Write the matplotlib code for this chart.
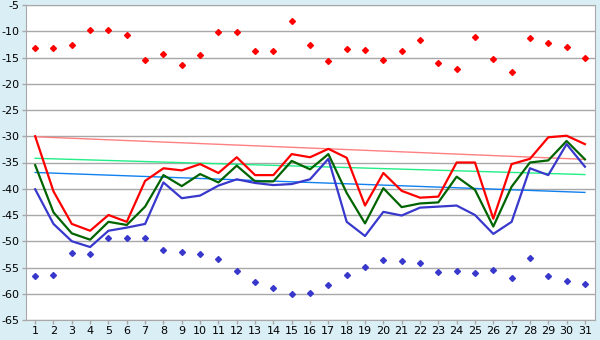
import matplotlib
matplotlib.use('Agg')
import matplotlib.pyplot as plt
import numpy as np

plt.rcParams['axes.unicode_minus'] = False
plt.rcParams['font.family'] = 'DejaVu Sans'

days = list(range(1, 32))

# daily maximum / mean / minimum
t_max = [-30.0, -40.5, -46.7, -48.0, -45.0, -46.3, -38.5, -36.1, -36.5, -35.3,
         -37.0, -34.0, -37.4, -37.4, -33.4, -34.0, -32.4, -34.1, -43.2, -37.0,
         -40.4, -41.7, -41.5, -35.0, -35.0, -45.7, -35.3, -34.3, -30.2, -29.9, -31.5]
t_mean = [-35.5, -44.5, -48.5, -49.7, -46.3, -46.9, -43.4, -37.4, -39.5, -37.2,
          -38.8, -35.6, -38.6, -38.6, -34.7, -36.3, -33.4, -40.8, -46.6, -39.9,
          -43.5, -42.8, -42.6, -37.7, -40.2, -47.2, -39.6, -35.0, -34.6, -30.9, -34.4]
t_min = [-40.1, -46.7, -50.0, -51.1, -48.0, -47.4, -46.7, -38.8, -41.8, -41.3,
         -39.4, -38.2, -38.9, -39.3, -39.1, -38.2, -34.3, -46.3, -49.0, -44.4,
         -45.1, -43.6, -43.4, -43.2, -45.0, -48.6, -46.3, -36.1, -37.4, -31.5, -35.8]

# records
rec_high = [-13.2, -13.2, -12.6, -9.8, -9.8, -10.8, -15.5, -14.3, -16.5, -14.6,
            -10.2, -10.2, -13.8, -13.8, -8.1, -12.7, -15.7, -13.4, -13.6, -15.5,
            -13.8, -11.7, -16.1, -17.2, -11.1, -15.3, -17.8, -11.3, -12.3, -13.0, -15.1]
rec_low = [-56.7, -56.5, -52.3, -52.5, -49.4, -49.4, -49.4, -51.7, -52.1, -52.5,
           -53.4, -55.7, -57.8, -58.9, -60.1, -59.9, -58.4, -56.5, -54.9, -53.6,
           -53.8, -54.2, -55.9, -55.7, -56.1, -55.5, -57.0, -53.2, -56.7, -57.6, -58.2]

# normals (start / end of month)
norm_days = [1, 31]
norm_max = [-30.1, -34.4]
norm_mean = [-34.2, -37.3]
norm_min = [-36.9, -40.7]

fig = plt.figure(figsize=(6, 3.4), dpi=100, facecolor='#DAEEF5')
ax = fig.add_axes([26 / 600, 1 - 320 / 340, 569 / 600, 315 / 340])
ax.set_facecolor('white')

ax.plot(norm_days, norm_max, color='#FF8080', lw=1)
ax.plot(norm_days, norm_mean, color='#22EE88', lw=1)
ax.plot(norm_days, norm_min, color='#1080F0', lw=1)

ax.plot(days, t_max, color='#FF0000', lw=1.6)
ax.plot(days, t_mean, color='#006400', lw=1.6)
ax.plot(days, t_min, color='#3838CC', lw=1.6)

ax.plot(days, rec_high, ls='none', marker='D', ms=3, color='#FF0000')
ax.plot(days, rec_low, ls='none', marker='D', ms=3, color='#3838CC')

ax.set_xlim(0.5, 31.55)
ax.set_ylim(-65, -5)
ax.set_yticks(np.arange(-65, -4, 5))
ax.set_xticks(days)
ax.yaxis.grid(True, color='#A8A8A8', lw=1)
ax.set_axisbelow(True)
for s in ax.spines.values():
    s.set_color('#A8A8A8')
ax.tick_params(axis='both', colors='#A8A8A8', labelcolor='black', labelsize=8, length=3, width=1, pad=1.5)

fig.savefig('out.png', dpi=100, facecolor=fig.get_facecolor())
